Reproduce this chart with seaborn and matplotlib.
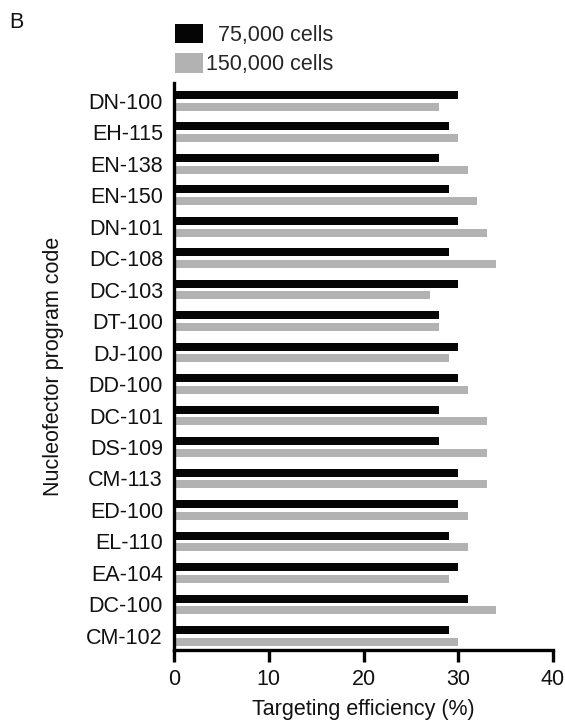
import pandas as pd
import numpy as np
import matplotlib
matplotlib.use("Agg")
import matplotlib.pyplot as plt
import seaborn as sns

# values (targeting efficiency, %)
programs = ["DN-100", "EH-115", "EN-138", "EN-150", "DN-101", "DC-108",
            "DC-103", "DT-100", "DJ-100", "DD-100", "DC-101", "DS-109",
            "CM-113", "ED-100", "EL-110", "EA-104", "DC-100", "CM-102"]
cells_75k = [30, 29, 28, 29, 30, 29, 30, 28, 30, 30, 28, 28, 30, 30, 29, 30, 31, 29]
cells_150k = [28, 30, 31, 32, 33, 34, 27, 28, 29, 31, 33, 33, 33, 31, 31, 29, 34, 30]
groups = ["75,000 cells", "150,000 cells"]
x_ticks = [0, 10, 20, 30, 40]

df = pd.DataFrame({
    "program": programs * 2,
    "efficiency": cells_75k + cells_150k,
    "cells": [groups[0]] * len(programs) + [groups[1]] * len(programs),
})

sns.set_theme(style="white")
plt.rcParams['font.family'] = ['Liberation Sans', 'DejaVu Sans']
fs = 15.5

fig = plt.figure(figsize=(5.65, 7.23), dpi=100)
ax = fig.add_axes([174 / 565, 1 - 650 / 723, (553 - 174) / 565, (650 - 83) / 723])

sns.barplot(ax=ax, data=df, y="program", x="efficiency", hue="cells",
            order=programs, hue_order=groups, orient="h",
            palette=["#050505", "#b2b2b2"], width=0.74, gap=0.31,
            saturation=1, errorbar=None, edgecolor="none", linewidth=0)

ax.set_xlim(0, 40)
ax.set_ylim(17.45, -0.566)
ax.set_xticks(x_ticks)
ax.set_xlabel("Targeting efficiency (%)", fontsize=fs, labelpad=7, color="#111111")
ax.set_ylabel("Nucleofector program code", fontsize=fs, labelpad=16, color="#111111")

for side in ["top", "right"]:
    ax.spines[side].set_visible(False)
for side in ["left", "bottom"]:
    ax.spines[side].set_linewidth(2.4)
    ax.spines[side].set_color("black")

ax.tick_params(axis="x", length=8.5, width=2.4, color="black", pad=5,
               labelsize=fs, labelcolor="#111111", bottom=True, direction="out")
ax.tick_params(axis="y", length=0, pad=8, labelsize=fs, labelcolor="#111111")

# legend above the plot
handles, labels = ax.get_legend_handles_labels()
ax.legend(handles, ["  75,000 cells", "150,000 cells"], loc="upper left",
          bbox_to_anchor=(175 / 565, 1 - 24 / 723), bbox_transform=fig.transFigure,
          frameon=False, fontsize=fs, borderpad=0, borderaxespad=0,
          handlelength=1.3, handleheight=1.0, handletextpad=0.15,
          labelspacing=0.34)

fig.text(9 / 565, 1 - 12 / 723, "B", fontsize=fs, va="top", ha="left", color="#111111")

plt.savefig("out.png", dpi=100)
